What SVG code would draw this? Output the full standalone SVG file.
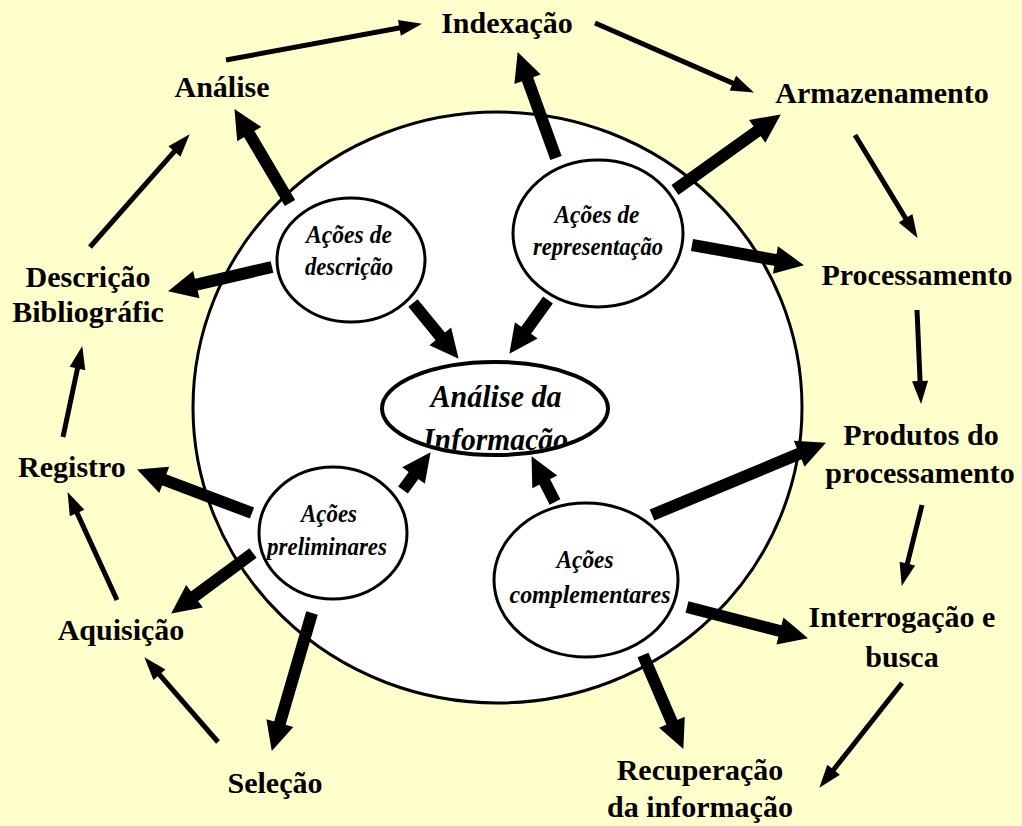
<svg xmlns="http://www.w3.org/2000/svg" width="1022" height="826" viewBox="0 0 1022 826">
<style>
.lbl{font-family:"Liberation Serif","Times New Roman",serif;font-weight:bold;font-size:30px;fill:#000;text-anchor:middle}
.sub{font-family:"Liberation Serif","Times New Roman",serif;font-weight:bold;font-style:italic;font-size:25px;fill:#000;text-anchor:middle}
.ctr{font-family:"Liberation Serif","Times New Roman",serif;font-weight:bold;font-style:italic;font-size:32px;fill:#000;text-anchor:middle}
.node{fill:#fff;stroke:#000;stroke-width:3}
.thick{stroke:#000;stroke-width:12;fill:none;marker-end:url(#headBig)}
.thin{stroke:#000;stroke-width:5;fill:none;marker-end:url(#headSmall)}
</style>
<defs>
<marker id="headBig" markerUnits="userSpaceOnUse" markerWidth="30" markerHeight="30" refX="0" refY="0" orient="auto" overflow="visible">
<path d="M-1,-14 L28,0 L-1,14 z" fill="#000"/>
</marker>
<marker id="headSmall" markerUnits="userSpaceOnUse" markerWidth="24" markerHeight="20" refX="0" refY="0" orient="auto" overflow="visible">
<path d="M-1,-8 L22,0 L-1,8 z" fill="#000"/>
</marker>
<clipPath id="ctrClip"><ellipse cx="495" cy="408.5" rx="111" ry="44.5"/></clipPath>
</defs>
<rect x="0" y="0" width="1022" height="826" fill="#FFFFCC"/>
<g id="boundary"><ellipse cx="497.5" cy="407.5" rx="304.5" ry="295.5" class="node"/></g>
<g id="connectors">
<line class="thin" x1="226" y1="60" x2="400.4" y2="27.8"/>
<line class="thin" x1="595" y1="23" x2="733.8" y2="83.6"/>
<line class="thin" x1="855" y1="135" x2="906.1" y2="219.1"/>
<line class="thin" x1="917" y1="310" x2="920.1" y2="382"/>
<line class="thin" x1="922" y1="505" x2="907.1" y2="564.6"/>
<line class="thin" x1="902" y1="683" x2="833" y2="770.5"/>
<line class="thin" x1="218" y1="742" x2="158.8" y2="673.9"/>
<line class="thin" x1="117" y1="600" x2="76.7" y2="512.1"/>
<line class="thin" x1="63" y1="437" x2="77.7" y2="367.5"/>
<line class="thin" x1="90" y1="247" x2="175.1" y2="150.7"/>
<line class="thick" x1="290" y1="203" x2="248.7" y2="133.2"/>
<line class="thick" x1="272" y1="267" x2="195.3" y2="284.9"/>
<line class="thick" x1="413" y1="303" x2="440.9" y2="337.1"/>
<line class="thick" x1="548" y1="300" x2="525.7" y2="331.1"/>
<line class="thick" x1="556" y1="158" x2="527.2" y2="78.4"/>
<line class="thick" x1="675" y1="190" x2="758" y2="130.7"/>
<line class="thick" x1="692" y1="245" x2="776.4" y2="260.2"/>
<line class="thick" x1="403" y1="490" x2="414.1" y2="474.8"/>
<line class="thick" x1="555" y1="502" x2="544.3" y2="481.1"/>
<line class="thick" x1="252" y1="513" x2="163.3" y2="479.5"/>
<line class="thick" x1="253" y1="553" x2="193.7" y2="596.9"/>
<line class="thick" x1="312" y1="613" x2="279.6" y2="724.1"/>
<line class="thick" x1="652" y1="515" x2="800.1" y2="453.4"/>
<line class="thick" x1="687" y1="607" x2="780.9" y2="631.2"/>
<line class="thick" x1="643" y1="655" x2="672.3" y2="723.2"/>
</g>
<g id="analise-informacao">
<ellipse cx="495" cy="408.5" rx="113" ry="46.5" fill="#fff"/>
<text class="ctr" x="496" y="407" textLength="131" lengthAdjust="spacingAndGlyphs">Análise da</text>
<text class="ctr" x="495.5" y="450" textLength="145" lengthAdjust="spacingAndGlyphs" clip-path="url(#ctrClip)">Informação</text>
<ellipse cx="495" cy="408.5" rx="113" ry="46.5" fill="none" stroke="#000" stroke-width="4"/>
</g>
<g id="acoes-descricao">
<ellipse class="node" cx="351" cy="260" rx="74" ry="62"/>
<text class="sub" x="349" y="243" textLength="86" lengthAdjust="spacingAndGlyphs">Ações de</text>
<text class="sub" x="349" y="275" textLength="88" lengthAdjust="spacingAndGlyphs">descrição</text>
</g>
<g id="acoes-representacao">
<ellipse class="node" cx="598" cy="233.5" rx="85" ry="73.5"/>
<text class="sub" x="597" y="223" textLength="85" lengthAdjust="spacingAndGlyphs">Ações de</text>
<text class="sub" x="598" y="255" textLength="130" lengthAdjust="spacingAndGlyphs">representação</text>
</g>
<g id="acoes-preliminares">
<ellipse class="node" cx="333" cy="533" rx="74" ry="66"/>
<text class="sub" x="329" y="522" textLength="56" lengthAdjust="spacingAndGlyphs">Ações</text>
<text class="sub" x="327" y="555" textLength="120" lengthAdjust="spacingAndGlyphs">preliminares</text>
</g>
<g id="acoes-complementares">
<ellipse class="node" cx="586" cy="580" rx="92" ry="77"/>
<text class="sub" x="585" y="568" textLength="57" lengthAdjust="spacingAndGlyphs">Ações</text>
<text class="sub" x="590" y="603" textLength="161" lengthAdjust="spacingAndGlyphs">complementares</text>
</g>
<g id="indexacao"><text class="lbl" x="507" y="33">Indexação</text></g>
<g id="analise"><text class="lbl" x="222" y="97">Análise</text></g>
<g id="armazenamento"><text class="lbl" x="882" y="103">Armazenamento</text></g>
<g id="processamento"><text class="lbl" x="917" y="285">Processamento</text></g>
<g id="produtos"><text class="lbl" x="921" y="445">Produtos do</text><text class="lbl" x="920" y="483">processamento</text></g>
<g id="interrogacao"><text class="lbl" x="902" y="627">Interrogação e</text><text class="lbl" x="902" y="667">busca</text></g>
<g id="recuperacao"><text class="lbl" x="700" y="780">Recuperação</text><text class="lbl" x="700" y="817">da informação</text></g>
<g id="selecao"><text class="lbl" x="275" y="793">Seleção</text></g>
<g id="aquisicao"><text class="lbl" x="121" y="640">Aquisição</text></g>
<g id="registro"><text class="lbl" x="72" y="477">Registro</text></g>
<g id="descricao"><text class="lbl" x="88" y="287">Descrição</text><text class="lbl" x="88" y="322">Bibliográfic</text></g>
</svg>
